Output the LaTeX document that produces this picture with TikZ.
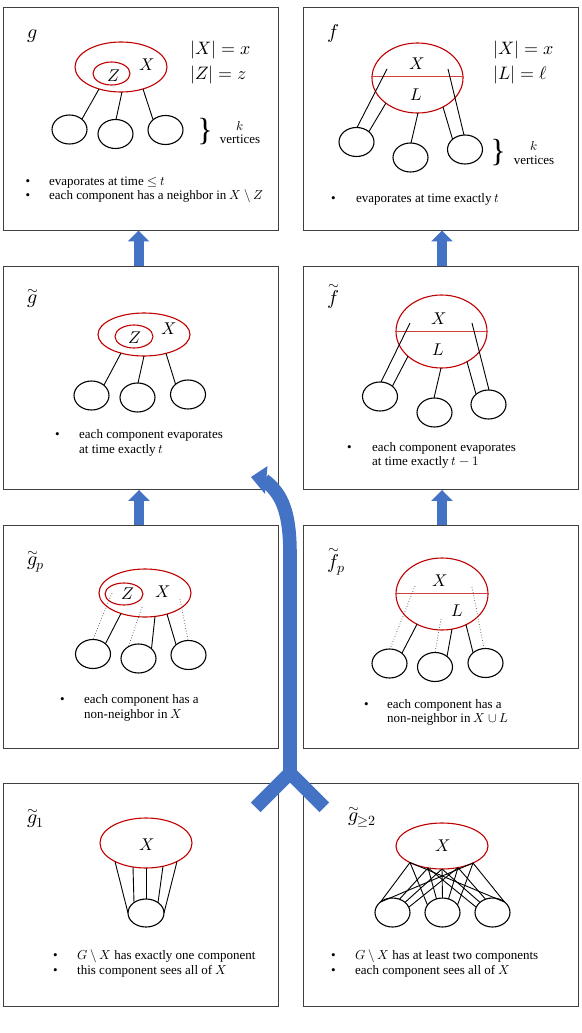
\documentclass[tikz,border=0pt]{standalone}
\usepackage{fontspec}
\usepackage{unicode-math}
\setmainfont{Liberation Serif}
\setmathfont{Latin Modern Math}
\usetikzlibrary{shapes.geometric,arrows.meta,calc}
\definecolor{redE}{HTML}{C00000}
\definecolor{blueA}{HTML}{4472C4}
\definecolor{frameC}{HTML}{404040}
\newcommand{\smin}{\mathbin{\backslash}}
\tikzset{
 panel/.style={draw=frameC, line width=0.9, minimum width=275, minimum height=223, inner sep=0},
 setE/.style={ellipse, draw=redE, line width=1.1, inner sep=0},
 comp/.style={ellipse, draw=black, line width=1.1, minimum width=35, minimum height=29, inner sep=0},
 link/.style={line width=0.9},
 nonlink/.style={line width=0.7, dotted, draw=black!75},
 splitline/.style={draw=redE!75, line width=0.8},
 lab/.style={inner sep=0, anchor=base west, font=\fontsize{20}{20}\selectfont},
 tild/.style={inner sep=0, anchor=base, font=\fontsize{14}{14}\selectfont},
 mlab/.style={inner sep=0, font=\fontsize{17}{17}\selectfont},
 eqlab/.style={inner sep=0, anchor=west, font=\fontsize{18}{18}\selectfont},
 txt/.style={inner sep=0, anchor=mid west, font=\fontsize{13}{15}\selectfont},
 blt/.style={inner sep=0, anchor=mid, font=\fontsize{13}{15}\selectfont},
 brc/.style={inner sep=0, font=\fontsize{32}{32}\selectfont},
 smallarrow/.style={draw=blueA, line width=10, -{Triangle[width=21pt,length=11pt]}},
 bigarrow/.style={draw=blueA, line width=13.6},
}
\begin{document}
\begin{tikzpicture}[x=1pt,y=-1pt]
\useasboundingbox (0,0) rectangle (581,1033);
% panels
\node[panel] (g)  at (140.5,118.5) {};
\node[panel] (f)  at (440.5,118.5) {};
\node[panel] (gt) at (140.5,378) {};
\node[panel] (ft) at (440.5,378) {};
\node[panel] (gp) at (140.5,636.5) {};
\node[panel] (fp) at (440.5,636.5) {};
\node[panel] (ga) at (140.5,895) {};
\node[panel] (gb) at (440.5,895) {};

% small arrows
\draw[smallarrow] ($(gt.north)+(-2,0)$) -- ($(g.south)+(-2,0)$);
\draw[smallarrow] ($(ft.north)+(1.5,0)$) -- ($(f.south)+(1.5,0)$);
\draw[smallarrow] ($(gp.north)+(-1.5,0)$) -- ($(gt.south)+(-1.5,0)$);
\draw[smallarrow] ($(fp.north)+(1.5,0)$) -- ($(ft.south)+(1.5,0)$);

% big arrow
\coordinate (yj) at (290,773);
\coordinate (yl) at (255.7,807.3);
\coordinate (yr) at (324.3,807.3);
\coordinate (ys) at (290,555);
\coordinate (ye) at (264,480);
\coordinate (yt) at (251,477);
\coordinate (yh1) at (267.5,466);
\coordinate (yh2) at (265,494);
\draw[bigarrow, line join=miter] (yl) -- (yj) -- (yr);
\draw[bigarrow] (yj) -- (ys) .. controls (290,514) and (283,494) .. (ye);
\fill[blueA] (yt) -- (yh1) -- (yh2) -- cycle;

% ---------- panel g
\node[lab] (gl) at (27,39) {$g$};
\node[setE, minimum width=92, minimum height=50] (gX) at (121,67) {};
\node[setE, minimum width=37, minimum height=23] (gZ) at (111.5,73.5) {};
\node[mlab] (gZl) at (113.5,76) {$Z$};
\node[mlab] (gXl) at (146.5,65) {$X$};
\node[comp] (g1) at (69.5,129.5) {};
\node[comp] (g2) at (115.5,134) {};
\node[comp] (g3) at (165.5,130) {};
\draw[link] ($(gX)+(-22,22)$) -- ($(g1)+(12.5,-10.5)$);
\draw[link] ($(gX)+(1,25)$) -- ($(g2)+(0.5,-14.5)$);
\draw[link] ($(gX)+(22,22)$) -- ($(g3)+(-12.5,-10.5)$);
\node[eqlab] (gsx) at (190,50.5) {$|X| = x$};
\node[eqlab] (gsz) at (190,75) {$|Z| = z$};
\node[brc] (gbr) at (205,132) {\}};
\node[mlab, font=\fontsize{13}{13}\selectfont] (gk) at (240,126) {$k$};
\node[txt, anchor=mid] (gv) at (240,141) {vertices};
\node[blt] (gb1) at (28,183) {•};
\node[txt] (gt1x) at (49,183) {evaporates at time $\le t$};
\node[blt] (gb2) at (28,197) {•};
\node[txt] (gt2x) at (49,197) {each component has a neighbor in $X\smin Z$};

% ---------- panel f
\node[lab] (fl) at (327,39) {$f$};
\node[setE, minimum width=91, minimum height=70] (fX) at (417.5,78) {};
\draw[splitline] ($(fX.west)+(0,-2)$) -- ($(fX.east)+(0,-2)$);
\node[mlab] (fXl) at (416.5,64) {$X$};
\node[mlab] (fLl) at (416,95) {$L$};
\node[comp] (fc1) at (356.5,142) {};
\node[comp] (fc2) at (410.5,157.5) {};
\node[comp] (fc3) at (465,149.5) {};
\draw[link] ($(fX)+(-30.5,-9)$) -- ($(fc1)+(0.5,-14.5)$);
\draw[link] ($(fX)+(-31.5,25)$) -- ($(fc1)+(12.5,-10.5)$);
\draw[link] ($(fX)+(0.5,35)$) -- ($(fc2)+(0.5,-14.5)$);
\draw[link] ($(fX)+(30.5,-9)$) -- ($(fc3)+(-1,-14.5)$);
\draw[link] ($(fX)+(25.5,29)$) -- ($(fc3)+(-12.5,-10.5)$);
\node[eqlab] (fsx) at (493,50.5) {$|X| = x$};
\node[eqlab] (fsl) at (493,75.5) {$|L| = \ell$};
\node[brc] (fbr) at (498,152.5) {\}};
\node[mlab, font=\fontsize{13}{13}\selectfont] (fk) at (534,146) {$k$};
\node[txt, anchor=mid] (fv) at (534,162) {vertices};
\node[blt] (fb1) at (333.5,200) {•};
\node[txt] (ft1x) at (356,200) {evaporates at time exactly $t$};

% ---------- panel g tilde
\node[lab] (gtl) at (27,303) {$g$};
\node[tild] (gtlt) at (32.5,294) {$\sim$};
\node[setE, minimum width=92, minimum height=43] (gtX) at (144,334.5) {};
\node[setE, minimum width=38, minimum height=23] (gtZ) at (134,336.5) {};
\node[mlab] (gtZl) at (135,337.5) {$Z$};
\node[mlab] (gtXl) at (168.5,329) {$X$};
\node[comp] (gt1) at (91.5,395.5) {};
\node[comp] (gt2) at (137.5,397.5) {};
\node[comp] (gt3) at (188,394.5) {};
\draw[link] ($(gtX)+(-23,18.6)$) -- ($(gt1)+(12.5,-10.5)$);
\draw[link] ($(gtX)+(0,21.5)$) -- ($(gt2)+(0.5,-14.5)$);
\draw[link] ($(gtX)+(22,18.9)$) -- ($(gt3)+(-12.5,-10.5)$);
\node[blt] (gtb) at (57.5,436) {•};
\node[txt] (gtt1) at (79,436) {each component evaporates};
\node[txt] (gtt2) at (79,451) {at time exactly $t$};

% ---------- panel f tilde
\node[lab] (ftl) at (327,304) {$f$};
\node[tild] (ftlt) at (334,289.5) {$\sim$};
\node[setE, minimum width=91, minimum height=73] (ftX) at (441.5,331.5) {};
\draw[splitline] ($(ftX.west)+(0,-0.5)$) -- ($(ftX.east)+(0,-0.5)$);
\node[mlab] (ftXl) at (439,319) {$X$};
\node[mlab] (ftLl) at (438.5,349.5) {$L$};
\node[comp] (ft1) at (380,396.5) {};
\node[comp] (ft2) at (434.5,412.5) {};
\node[comp] (ft3) at (488.5,404.5) {};
\draw[link] ($(ftX)+(-31.5,-8.5)$) -- ($(ft1)+(1,-14.5)$);
\draw[link] ($(ftX)+(-33.5,24.7)$) -- ($(ft1)+(12.5,-10.5)$);
\draw[link] ($(ftX)+(-0.5,36.5)$) -- ($(ft2)+(-0.5,-14.5)$);
\draw[link] ($(ftX)+(30.5,-8.5)$) -- ($(ft3)+(0.5,-14.5)$);
\draw[link] ($(ftX)+(25.5,30.2)$) -- ($(ft3)+(-12.5,-10.5)$);
\node[blt] (ftb) at (349.5,449) {•};
\node[txt] (ftt1) at (372,449) {each component evaporates};
\node[txt] (ftt2) at (372,463) {at time exactly $t-1$};

% ---------- panel g tilde p
\node[lab] (gpl) at (27,565) {$g_p$};
\node[tild] (gplt) at (32.5,556) {$\sim$};
\node[setE, minimum width=92, minimum height=48] (gpX) at (145,593) {};
\node[setE, minimum width=38, minimum height=22] (gpZ) at (124,594) {};
\node[mlab] (gpZl) at (128,594) {$Z$};
\node[mlab] (gpXl) at (162.5,591.5) {$X$};
\node[comp] (gp1) at (93,654) {};
\node[comp] (gp2) at (138.5,658.5) {};
\node[comp] (gp3) at (188.5,655) {};
\draw[nonlink] ($(gpX)+(-33,0)$) -- ($(gp1)+(0,-14.5)$);
\draw[link] ($(gpX)+(-24,20.5)$) -- ($(gp1)+(12.5,-10.5)$);
\draw[nonlink] ($(gpX)+(-3,14)$) -- ($(gp2)+(-10,-12)$);
\draw[link] ($(gpX)+(10,23.4)$) -- ($(gp2)+(13,-9.7)$);
\draw[link] ($(gpX)+(22,21.1)$) -- ($(gp3)+(-12.5,-10.5)$);
\draw[nonlink] ($(gpX)+(35,6)$) -- ($(gp3)+(-0.5,-14.5)$);
\node[blt] (gpb) at (62.5,701) {•};
\node[txt] (gpt1) at (84,701) {each component has a};
\node[txt] (gpt2) at (84,716) {non-neighbor in $X$};

% ---------- panel f tilde p
\node[lab] (fpl) at (327,568) {$f_p$};
\node[tild] (fplt) at (334,553.5) {$\sim$};
\node[setE, minimum width=92, minimum height=72] (fpX) at (442,594) {};
\draw[splitline] ($(fpX.west)+(0,-1)$) -- ($(fpX.east)+(0,-1)$);
\node[mlab] (fpXl) at (440,581) {$X$};
\node[mlab] (fpLl) at (457,611) {$L$};
\node[comp] (fp1) at (389.5,663.5) {};
\node[comp] (fp2) at (435,667) {};
\node[comp] (fp3) at (485.5,663) {};
\draw[nonlink] ($(fpX)+(-27,-8)$) -- ($(fp1)+(0.5,-14.5)$);
\draw[link] ($(fpX)+(-25,30.2)$) -- ($(fp1)+(12.5,-10.5)$);
\draw[nonlink] ($(fpX)+(-1,25)$) -- ($(fp2)+(0,-14.5)$);
\draw[link] ($(fpX)+(10,35.1)$) -- ($(fp2)+(12,-10.5)$);
\draw[link] ($(fpX)+(24,30.7)$) -- ($(fp3)+(-12.5,-10.5)$);
\draw[nonlink] ($(fpX)+(30,-7)$) -- ($(fp3)+(-1.5,-14.5)$);
\node[blt] (fpb) at (366.5,706) {•};
\node[txt] (fpt1) at (387,706) {each component has a};
\node[txt] (fpt2) at (387,720) {non-neighbor in $X\cup L$};

% ---------- panel g tilde 1
\node[lab] (gal) at (27,823) {$g_1$};
\node[tild] (galt) at (32.5,814) {$\sim$};
\node[setE, minimum width=92, minimum height=50] (gaX) at (146,843) {};
\node[mlab] (gaXl) at (147,845) {$X$};
\node[comp, minimum width=36, minimum height=28] (gac) at (146,913) {};
\draw[link] ($(gaX)+(-31,18.5)$) -- ($(gac)+(-18,0)$);
\draw[link] ($(gaX)+(-13,24)$) -- ($(gac)+(-12,-10.4)$);
\draw[link] ($(gaX)+(0,25)$) -- ($(gac)+(0,-14)$);
\draw[link] ($(gaX)+(17,23.2)$) -- ($(gac)+(12,-10.4)$);
\draw[link] ($(gaX)+(31,18.5)$) -- ($(gac)+(18,0)$);
\node[blt] (gab1) at (55.5,957) {•};
\node[txt] (gat1) at (77,957) {$G\smin X$ has exactly one component};
\node[blt] (gab2) at (55.5,972) {•};
\node[txt] (gat2) at (77,972) {this component sees all of $X$};

% ---------- panel g tilde >=2
\node[lab] (gbl) at (348,821) {$g_{\geq 2}$};
\node[tild] (gblt) at (353.5,812) {$\sim$};
\node[setE, minimum width=92, minimum height=46] (gbX) at (442,846) {};
\node[mlab] (gbXl) at (443,846) {$X$};
\node[comp] (gba) at (392.5,912.5) {};
\node[comp] (gbb) at (442.5,912.5) {};
\node[comp] (gbc) at (492.5,912.5) {};
\coordinate (P1) at ($(gbX)+(-32,16.5)$);
\coordinate (P2) at ($(gbX)+(-14,21.9)$);
\coordinate (P3) at ($(gbX)+(0,23)$);
\coordinate (P4) at ($(gbX)+(16,21.6)$);
\coordinate (P5) at ($(gbX)+(31,17)$);
\draw[link] (P1) -- ($(gba)+(-12,-10.5)$);
\draw[link] (P5) -- ($(gba)+(-12,-10.5)$);
\draw[link] (P2) -- ($(gba)+(7,-13.3)$);
\draw[link] (P3) -- ($(gba)+(12.5,-10.1)$);
\draw[link] (P4) -- ($(gba)+(16.3,-5.3)$);
\draw[link] (P5) -- ($(gbc)+(12,-10.5)$);
\draw[link] (P1) -- ($(gbc)+(12,-10.5)$);
\draw[link] (P4) -- ($(gbc)+(-7,-13.3)$);
\draw[link] (P3) -- ($(gbc)+(-12.5,-10.1)$);
\draw[link] (P2) -- ($(gbc)+(-16.3,-5.3)$);
\draw[link] (P3) -- ($(gbb)+(0,-14.5)$);
\draw[link] (P1) -- ($(gbb)+(-15,-7.5)$);
\draw[link] (P2) -- ($(gbb)+(-6,-13.6)$);
\draw[link] (P4) -- ($(gbb)+(6,-13.6)$);
\draw[link] (P5) -- ($(gbb)+(15,-7.5)$);
\node[blt] (gbb1) at (333.5,957) {•};
\node[txt] (gbt1) at (355,957) {$G\smin X$ has at least two components};
\node[blt] (gbb2) at (333.5,972) {•};
\node[txt] (gbt2) at (355,972) {each component sees all of $X$};
\end{tikzpicture}
\end{document}
